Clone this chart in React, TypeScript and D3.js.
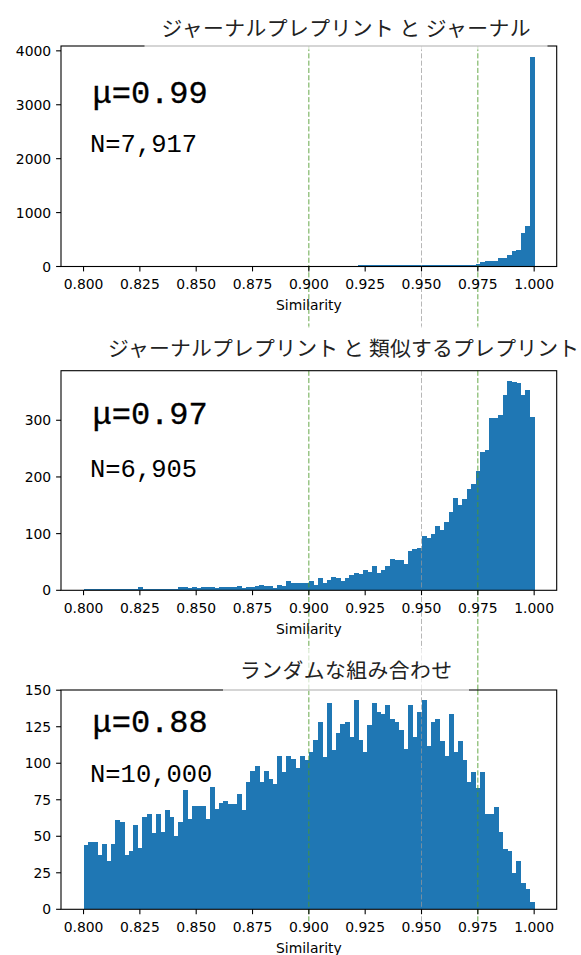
import React from "react";
import * as d3 from "d3";

// ---------- data ----------
const BIN_START = 0.8;
const BIN_WIDTH = 0.002;
const X_TICKS = [0.8, 0.825, 0.85, 0.875, 0.9, 0.925, 0.95, 0.975, 1.0];
const REF_LINES = [0.9, 0.95, 0.975];
const REF_COLORS = ["#4c9a2a", "#999999", "#4c9a2a"];
const REF_OPACITY = [0.85, 0.7, 0.85];

const TITLES = [
  "ジャーナルプレプリント と ジャーナル",
  "ジャーナルプレプリント と 類似するプレプリント",
  "ランダムな組み合わせ",
];
const MEAN_LABELS = ["μ=0.99", "μ=0.97", "μ=0.88"];
const N_LABELS = ["N=7,917", "N=6,905", "N=10,000"];
const X_LABEL = "Similarity";

const Y_TICKS_JOURNAL = [0, 1000, 2000, 3000, 4000];
const Y_TICKS_SIMILAR = [0, 100, 200, 300];
const Y_TICKS_RANDOM = [0, 25, 50, 75, 100, 125, 150];

// counts per bin, 100 bins from 0.800 to 1.000
const journalCounts = [
  0, 0, 0, 0, 0, 0, 0, 0, 0, 0,
  0, 0, 0, 0, 0, 0, 0, 0, 0, 0,
  0, 0, 0, 0, 0, 0, 0, 0, 0, 0,
  0, 0, 0, 0, 0, 0, 0, 0, 0, 0,
  0, 0, 0, 0, 0, 0, 0, 0, 0, 0,
  0, 0, 0, 0, 0, 0, 0, 0, 0, 0,
  0, 2, 3, 8, 10, 6, 9, 10, 7, 9,
  8, 3, 2, 4, 3, 5, 6, 8, 10, 12,
  14, 16, 18, 22, 25, 30, 37, 50, 75, 93,
  105, 110, 150, 165, 215, 285, 315, 625, 750, 3895,
];

const similarCounts = [
  1, 2, 2, 1, 2, 1, 1, 2, 2, 2,
  3, 2, 5, 2, 2, 1, 2, 2, 2, 1,
  3, 5, 5, 4, 5, 4, 5, 5, 5, 4,
  5, 5, 6, 6, 8, 4, 6, 6, 8, 10,
  8, 8, 4, 9, 7, 16, 12, 12, 12, 12,
  17, 10, 21, 12, 19, 23, 21, 16, 21, 27,
  30, 29, 35, 33, 42, 30, 36, 43, 56, 53,
  53, 46, 70, 72, 74, 96, 92, 100, 113, 106,
  120, 139, 163, 151, 161, 179, 187, 210, 244, 248,
  304, 304, 309, 345, 369, 368, 366, 344, 353, 305,
];

const randomCounts = [
  44, 46, 46, 37, 45, 33, 45, 61, 60, 37,
  40, 58, 42, 63, 65, 52, 65, 53, 68, 63,
  50, 60, 82, 62, 71, 71, 71, 62, 84, 69,
  73, 74, 72, 72, 79, 68, 87, 95, 98, 87,
  95, 89, 86, 105, 94, 105, 103, 97, 105, 102,
  108, 116, 128, 104, 141, 109, 121, 127, 128, 118,
  143, 116, 108, 126, 141, 135, 134, 140, 130, 128,
  123, 110, 140, 118, 135, 143, 112, 128, 130, 115,
  105, 134, 108, 115, 102, 87, 94, 83, 94, 65,
  65, 70, 53, 41, 40, 25, 33, 18, 14, 5,
];

// ---------- layout ----------
const W = 581;
const H = 955;
const AX_LEFT = 61;
const AX_RIGHT = 556.7;
const BAR_COLOR = "#1f77b4";
const TICK_FONT = "DejaVu Sans, sans-serif";
const CJK_FONT = "'Noto Sans CJK JP', sans-serif";
const MONO_FONT = "'Liberation Mono', monospace";
const MIN_BAR_PX = 1.8;

const PANELS = [
  { counts: journalCounts, yTicks: Y_TICKS_JOURNAL, top: 46, bottom: 266.5, titleBase: 36, titleLeft: 161.5, titleWidth: 369, lineEnd: 328, muOff: 57.3, nOff: 105.7 },
  { counts: similarCounts, yTicks: Y_TICKS_SIMILAR, top: 370.7, bottom: 590.3, titleBase: 355.5, titleLeft: 108, titleWidth: 471, lineEnd: 690, muOff: 53.3, nOff: 106 },
  { counts: randomCounts, yTicks: Y_TICKS_RANDOM, top: 690, bottom: 909.3, titleBase: 677.5, titleLeft: 240, titleWidth: 212, lineEnd: 923, muOff: 41.7, nOff: 91.7 },
];

const xScale = d3.scaleLinear().domain([0.79, 1.01]).range([AX_LEFT, AX_RIGHT]);
const fmtX = d3.format(".3f");

function Panel({ idx }: { idx: number }) {
  const p = PANELS[idx];
  const ymax = (d3.max(p.counts) as number) * 1.05;
  const y = d3.scaleLinear().domain([0, ymax]).range([p.bottom, p.top]);
  const bins = p.counts.map((c, i) => ({ x0: BIN_START + i * BIN_WIDTH, x1: BIN_START + (i + 1) * BIN_WIDTH, c }));
  const tl = p.titleLeft;
  return (
    <g>
      {/* axes background */}
      <rect x={AX_LEFT} y={p.top} width={AX_RIGHT - AX_LEFT} height={p.bottom - p.top} fill="white" />
      <g shapeRendering="crispEdges">
        {bins.map((b, i) => {
          if (b.c <= 0) return null;
          const h = Math.max(y(0) - y(b.c), MIN_BAR_PX);
          return (
            <rect
              key={i}
              x={xScale(b.x0)}
              y={y(0) - h}
              width={xScale(b.x1) - xScale(b.x0) + 0.5}
              height={h}
              fill={BAR_COLOR}
            />
          );
        })}
      </g>
      {REF_LINES.map((v, i) => (
        <line
          key={i}
          x1={xScale(v)}
          x2={xScale(v)}
          y1={p.top}
          y2={p.lineEnd}
          stroke={REF_COLORS[i]}
          strokeOpacity={REF_OPACITY[i]}
          strokeWidth={1}
          strokeDasharray="5.1 2.2"
        />
      ))}
      {/* spines */}
      <rect x={AX_LEFT} y={p.top} width={AX_RIGHT - AX_LEFT} height={p.bottom - p.top} fill="none" stroke="black" strokeWidth={1.1} />
      {/* x ticks */}
      {X_TICKS.map((t) => (
        <g key={t}>
          <line x1={xScale(t)} x2={xScale(t)} y1={p.bottom} y2={p.bottom + 4.9} stroke="black" strokeWidth={1.1} />
          <text x={xScale(t)} y={p.bottom + 22.6} textAnchor="middle" fontFamily={TICK_FONT} fontSize={13.9} fill="black">
            {fmtX(t)}
          </text>
        </g>
      ))}
      <text x={(AX_LEFT + AX_RIGHT) / 2} y={p.bottom + 43.5} textAnchor="middle" fontFamily={TICK_FONT} fontSize={13.9} fill="black">
        {X_LABEL}
      </text>
      {/* y ticks */}
      {p.yTicks.map((t) => (
        <g key={t}>
          <line x1={AX_LEFT - 4.9} x2={AX_LEFT} y1={y(t)} y2={y(t)} stroke="black" strokeWidth={1.1} />
          <text x={AX_LEFT - 9.8} y={y(t) + 5} textAnchor="end" fontFamily={TICK_FONT} fontSize={13.9} fill="black">
            {t}
          </text>
        </g>
      ))}
      {/* annotations */}
      <text x={92.5} y={p.top + p.muOff} fontFamily={MONO_FONT} fontSize={32} fill="black" stroke="black" strokeWidth={0.35}>
        {MEAN_LABELS[idx]}
      </text>
      <text x={90} y={p.top + p.nOff} fontFamily={MONO_FONT} fontSize={25.5} fill="black">
        {N_LABELS[idx]}
      </text>
      {/* title with translucent white box */}
      <rect x={tl - 17} y={p.titleBase - 29} width={p.titleWidth + 34} height={42.5} fill="white" fillOpacity={0.7} />
      <text
        x={tl}
        y={p.titleBase}
        fontFamily={CJK_FONT}
        fontSize={20.8}
        fill="#222"
        textLength={p.titleWidth}
        lengthAdjust="spacing"
      >
        {TITLES[idx]}
      </text>
    </g>
  );
}

export default function App() {
  return (
    <svg
      width={W}
      height={H}
      viewBox={`0 0 ${W} ${H}`}
      style={{ position: "absolute", left: 0, top: 0, background: "white", display: "block" }}
    >
      <rect x={0} y={0} width={W} height={H} fill="white" />
      {PANELS.map((_, i) => (
        <Panel key={i} idx={i} />
      ))}
    </svg>
  );
}
